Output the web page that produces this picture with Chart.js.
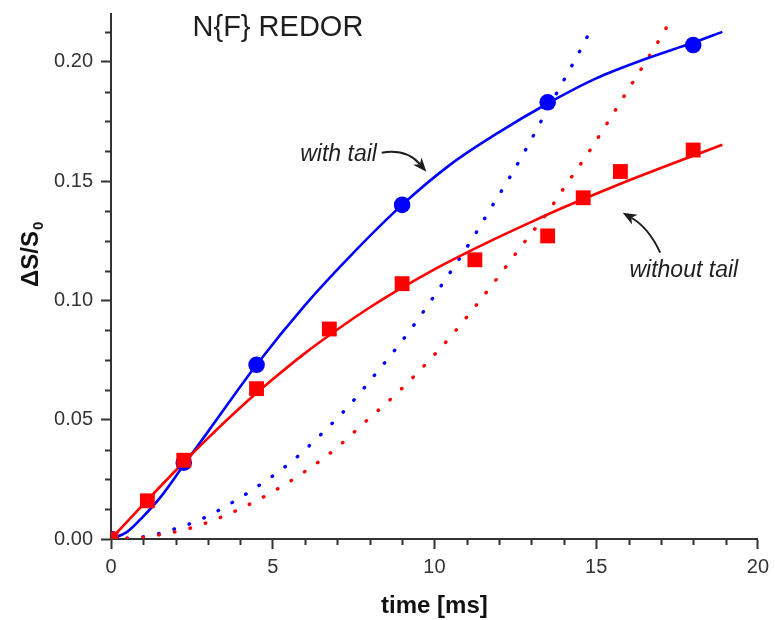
<!DOCTYPE html>
<html>
<head>
<meta charset="utf-8">
<title>N{F} REDOR</title>
<script src="https://cdn.jsdelivr.net/npm/chart.js@4.4.1/dist/chart.umd.min.js"></script>
<style>
  html, body { margin: 0; padding: 0; background: #fff; }
  #wrap { width: 775px; height: 620px; }
</style>
</head>
<body>
<div id="wrap"><canvas id="redorChart" width="775" height="620"></canvas></div>
<script>
// Mittauspisteet: aika (ms) ja ΔS/S0
const withTailTime = [0, 2.25, 4.5, 9, 13.5, 18];
const withTailValue = [0, 0.032, 0.073, 0.140, 0.183, 0.207];
const noTailTime = [0, 1.125, 2.25, 4.5, 6.75, 9, 11.25, 13.5, 14.6, 15.75, 18];
const noTailValue = [0, 0.016, 0.033, 0.063, 0.088, 0.107, 0.117, 0.127, 0.143, 0.154, 0.163];

// Sovitetut käyrät (luettu kuvasta)
const fitWithTailTime = [0, 0.5, 1, 1.5, 2.25, 3, 4.5, 6, 7.5, 9, 10.5, 12, 13.5, 15, 16.5, 18, 18.9];
const fitWithTailValue = [0, 0.003, 0.0095, 0.017, 0.031, 0.045, 0.073, 0.098, 0.120, 0.140, 0.157, 0.1705, 0.1825, 0.193, 0.201, 0.208, 0.2125];
const fitNoTailTime = [0, 1, 2, 3, 4, 5, 6, 7, 8, 9, 10, 11, 12, 13, 14, 15, 16, 17, 18, 18.9];
const fitNoTailValue = [0, 0.0145, 0.0287, 0.0423, 0.0551, 0.0669, 0.0779, 0.0878, 0.0970, 0.1053, 0.1130, 0.1200, 0.1266, 0.1329, 0.1390, 0.1447, 0.1502, 0.1555, 0.1606, 0.1652];

// Pisteviivat
const dotWithTailTime = [0, 0.94, 1.4, 1.87, 2.79, 3.71, 4.64, 5.58, 6.5, 7.4, 8.2, 9.3, 9.95, 10.58, 11.2, 11.76, 12.33, 12.86, 13.37, 13.9, 14.64, 14.89];
const dotWithTailValue = [0, 0.0008, 0.002, 0.0038, 0.0083, 0.015, 0.023, 0.0324, 0.0439, 0.0565, 0.0695, 0.0884, 0.101, 0.1136, 0.1264, 0.139, 0.1516, 0.1641, 0.1769, 0.1898, 0.2082, 0.2149];
const dotNoTailTime = [0, 0.94, 1.6, 2.33, 3.25, 4.17, 5.1, 6.04, 6.96, 7.87, 8.79, 9.71, 10.55, 11.33, 12.05, 12.76, 13.45, 14.1, 14.74, 15.33, 15.93, 16.51, 17.08, 17.35];
const dotNoTailValue = [0, 0.0007, 0.002, 0.0041, 0.0083, 0.0138, 0.0206, 0.0287, 0.038, 0.0492, 0.0604, 0.073, 0.0856, 0.0986, 0.1112, 0.124, 0.136, 0.149, 0.1615, 0.174, 0.187, 0.1995, 0.2121, 0.2187];

// Akselien merkit
const xTickValues = [0, 5, 10, 15, 20];
const yTickValues = [0, 0.05, 0.10, 0.15, 0.20];

const BLUE = '#0000ff';
const RED = '#ff0000';
const FONT = "'Liberation Sans', Arial, sans-serif";

function pairs(xs, ys) {
  return xs.map((x, i) => ({ x: x, y: ys[i] }));
}

// Pienet väliviivat, akselien otsikot ja tekstit
const decorPlugin = {
  id: 'decor',
  afterDraw(chart) {
    const { ctx, chartArea, scales: { x, y } } = chart;
    ctx.save();

    // väliviivat
    ctx.strokeStyle = '#333';
    ctx.lineWidth = 2;
    ctx.beginPath();
    for (let v = 1; v < 20; v++) {
      if (v % 5 === 0) continue;
      const px = Math.round(x.getPixelForValue(v)) + 0.5;
      ctx.moveTo(px, chartArea.bottom);
      ctx.lineTo(px, chartArea.bottom + 6);
    }
    for (let k = 1; k <= 17; k++) {
      if (k % 4 === 0) continue;
      const py = Math.round(y.getPixelForValue(k * 0.0125)) + 0.5;
      ctx.moveTo(chartArea.left, py);
      ctx.lineTo(chartArea.left - 6, py);
    }
    ctx.stroke();

    // x-akselin otsikko
    ctx.fillStyle = '#111';
    ctx.font = 'bold 24px ' + FONT;
    ctx.textAlign = 'center';
    ctx.textBaseline = 'alphabetic';
    ctx.fillText('time [ms]', (chartArea.left + chartArea.right) / 2, 613);

    // y-akselin otsikko alaindeksillä
    ctx.save();
    ctx.translate(38, 287);
    ctx.rotate(-Math.PI / 2);
    ctx.textAlign = 'left';
    ctx.font = 'bold 24px ' + FONT;
    ctx.fillText('ΔS/S', 0, 0);
    const w = ctx.measureText('ΔS/S').width;
    ctx.font = 'bold 15px ' + FONT;
    ctx.fillText('0', w + 1, 5);
    ctx.restore();

    // tekstit
    ctx.fillStyle = '#1e1e1e';
    ctx.textAlign = 'left';
    ctx.font = '29px ' + FONT;
    ctx.fillText('N{F} REDOR', x.getPixelForValue(2.52), y.getPixelForValue(0.2108));
    ctx.font = 'italic 23px ' + FONT;
    ctx.fillText('with tail', x.getPixelForValue(5.85), y.getPixelForValue(0.1586));
    ctx.fillText('without tail', x.getPixelForValue(16.03), y.getPixelForValue(0.1099));

    // nuolet
    const P = (vx, vy) => ({ x: x.getPixelForValue(vx), y: y.getPixelForValue(vy) });
    drawArrow(ctx, P(8.37, 0.1619), P(9.14, 0.1636), P(9.75, 0.1539));
    drawArrow(ctx, P(16.98, 0.12), P(16.62, 0.1305), P(15.82, 0.1367));

    ctx.restore();
  }
};

function drawArrow(ctx, p0, c, p1) {
  const ang = Math.atan2(p1.y - c.y, p1.x - c.x);
  const len = 15;
  const back = { x: p1.x - Math.cos(ang) * 10, y: p1.y - Math.sin(ang) * 10 };
  ctx.strokeStyle = '#1e1e1e';
  ctx.fillStyle = '#1e1e1e';
  ctx.lineWidth = 2;
  ctx.beginPath();
  ctx.moveTo(p0.x, p0.y);
  ctx.quadraticCurveTo(c.x, c.y, back.x, back.y);
  ctx.stroke();
  ctx.beginPath();
  ctx.moveTo(p1.x, p1.y);
  ctx.lineTo(p1.x - Math.cos(ang - 0.38) * len, p1.y - Math.sin(ang - 0.38) * len);
  ctx.lineTo(back.x, back.y);
  ctx.lineTo(p1.x - Math.cos(ang + 0.38) * len, p1.y - Math.sin(ang + 0.38) * len);
  ctx.closePath();
  ctx.fill();
}

const lineBase = {
  showLine: true,
  pointRadius: 0,
  pointHoverRadius: 0,
  fill: false,
  cubicInterpolationMode: 'monotone'
};

new Chart(document.getElementById('redorChart'), {
  type: 'scatter',
  data: {
    datasets: [
      {
        label: 'without tail',
        data: pairs(noTailTime, noTailValue),
        pointStyle: 'rect',
        pointRadius: 10.5,
        backgroundColor: RED,
        borderColor: RED,
        borderWidth: 0
      },
      {
        label: 'with tail',
        data: pairs(withTailTime, withTailValue),
        pointStyle: 'circle',
        pointRadius: 8.3,
        backgroundColor: BLUE,
        borderColor: BLUE,
        borderWidth: 0
      },
      Object.assign({}, lineBase, {
        label: 'fit without tail',
        data: pairs(fitNoTailTime, fitNoTailValue),
        borderColor: RED,
        borderWidth: 2.6
      }),
      Object.assign({}, lineBase, {
        label: 'fit with tail',
        data: pairs(fitWithTailTime, fitWithTailValue),
        borderColor: BLUE,
        borderWidth: 2.6
      }),
      Object.assign({}, lineBase, {
        label: 'dotted without tail',
        data: pairs(dotNoTailTime, dotNoTailValue),
        borderColor: RED,
        borderWidth: 3.4,
        borderDash: [0.5, 15.5],
        borderCapStyle: 'round'
      }),
      Object.assign({}, lineBase, {
        label: 'dotted with tail',
        data: pairs(dotWithTailTime, dotWithTailValue),
        borderColor: BLUE,
        borderWidth: 3.4,
        borderDash: [0.5, 15.5],
        borderCapStyle: 'round'
      })
    ]
  },
  options: {
    responsive: false,
    animation: false,
    devicePixelRatio: 1,
    layout: { padding: { top: 14, right: 14, left: 0, bottom: 0 } },
    plugins: {
      legend: { display: false },
      tooltip: { enabled: false }
    },
    scales: {
      x: {
        type: 'linear',
        min: 0,
        max: 20,
        afterFit: (scale) => { scale.height = 81; },
        afterBuildTicks: (scale) => { scale.ticks = xTickValues.map(v => ({ value: v })); },
        ticks: {
          color: '#333',
          font: { family: FONT, size: 20 },
          padding: 6,
          maxRotation: 0
        },
        grid: {
          drawOnChartArea: false,
          drawTicks: true,
          tickLength: 10,
          tickColor: '#333',
          tickWidth: 2
        },
        border: { display: true, color: '#333', width: 2 }
      },
      y: {
        type: 'linear',
        min: 0,
        max: 0.22,
        afterFit: (scale) => {
          scale.width = 111;
          scale.paddingTop = 0;
          scale.paddingBottom = 0;
        },
        afterBuildTicks: (scale) => { scale.ticks = yTickValues.map(v => ({ value: v })); },
        ticks: {
          color: '#333',
          font: { family: FONT, size: 20 },
          padding: 8,
          callback: (v) => Number(v).toFixed(2)
        },
        grid: {
          drawOnChartArea: false,
          drawTicks: true,
          tickLength: 10,
          tickColor: '#333',
          tickWidth: 2
        },
        border: { display: true, color: '#333', width: 2 }
      }
    }
  },
  plugins: [decorPlugin]
});
</script>
</body>
</html>
